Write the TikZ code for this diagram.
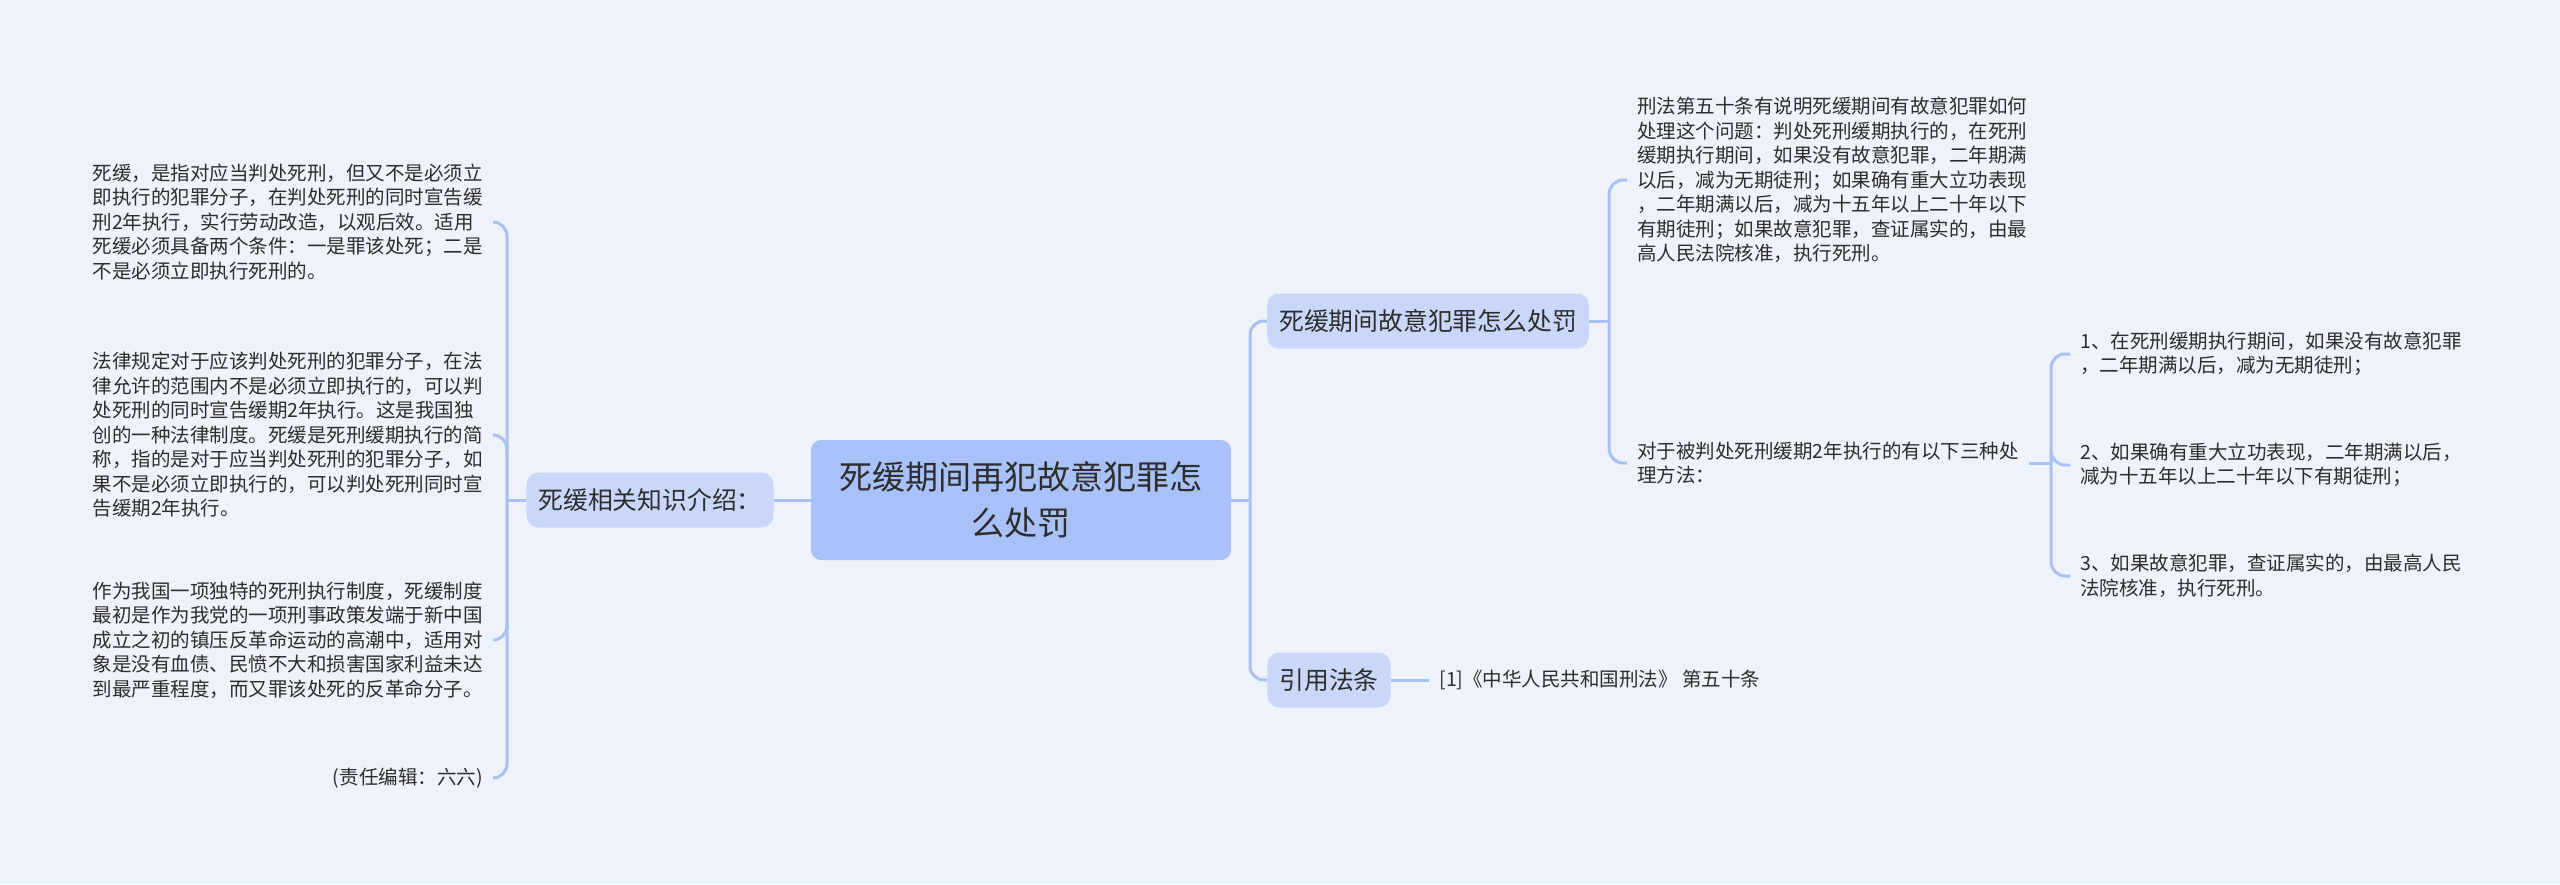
\documentclass[tikz,border=0pt]{standalone}
\usepackage{fontspec}
\usepackage{xcolor}
\usepackage{tikz}
\usetikzlibrary{calc}
\newfontfamily\cjk{Noto Sans CJK SC}

\definecolor{bgcol}{RGB}{238,242,251}
\definecolor{rootcol}{RGB}{169,193,249}
\definecolor{topiccol}{RGB}{201,216,250}
\definecolor{linkcol}{RGB}{170,193,241}
\definecolor{textcol}{RGB}{45,45,45}

\begin{document}
\begin{tikzpicture}[
  x=0.5pt, y=-0.5pt,
  rootbox/.style={fill=rootcol, rounded corners=5pt, minimum width=210pt, minimum height=60pt,
    align=center, text=textcol, font={\cjk\fontsize{16.5pt}{23pt}\selectfont}},
  topicbox/.style={fill=topiccol, rounded corners=6pt, minimum height=27.5pt, inner xsep=6pt,
    text=textcol, font={\cjk\fontsize{12.4pt}{15pt}\selectfont}},
  leaf/.style={align=left, inner sep=5pt, text=textcol, font={\cjk\fontsize{9.75pt}{12.25pt}\selectfont}},
  link/.style={draw=linkcol, line width=1.5pt},
  curvedlink/.style={link, rounded corners=7pt}
]
\useasboundingbox[fill=bgcol] (0,0) rectangle (2560,884);

% centre and first level
\node[rootbox] (root) at (1021,500) {死缓期间再犯故意犯罪怎\\么处罚};
\node[topicbox] (know) at (650,500) {死缓相关知识介绍：};
\node[topicbox] (punish) at (1428,321) {死缓期间故意犯罪怎么处罚};
\node[topicbox] (law) at (1329,680) {引用法条};

% left side: knowledge
\node[leaf, anchor=east] (k1) at (493,222) {死缓，是指对应当判处死刑，但又不是必须立\\即执行的犯罪分子，在判处死刑的同时宣告缓\\刑2年执行，实行劳动改造，以观后效。适用\\死缓必须具备两个条件：一是罪该处死；二是\\不是必须立即执行死刑的。};
\node[leaf, anchor=east] (k2) at (493,435) {法律规定对于应该判处死刑的犯罪分子，在法\\律允许的范围内不是必须立即执行的，可以判\\处死刑的同时宣告缓期2年执行。这是我国独\\创的一种法律制度。死缓是死刑缓期执行的简\\称，指的是对于应当判处死刑的犯罪分子，如\\果不是必须立即执行的，可以判处死刑同时宣\\告缓期2年执行。};
\node[leaf, anchor=east] (k3) at (493,640) {作为我国一项独特的死刑执行制度，死缓制度\\最初是作为我党的一项刑事政策发端于新中国\\成立之初的镇压反革命运动的高潮中，适用对\\象是没有血债、民愤不大和损害国家利益未达\\到最严重程度，而又罪该处死的反革命分子。};
\node[leaf, anchor=east] (k4) at (493,778) {(责任编辑：六六)};

% right side: punishment
\node[leaf, anchor=west] (p1) at (1627,180) {刑法第五十条有说明死缓期间有故意犯罪如何\\处理这个问题：判处死刑缓期执行的，在死刑\\缓期执行期间，如果没有故意犯罪，二年期满\\以后，减为无期徒刑；如果确有重大立功表现\\，二年期满以后，减为十五年以上二十年以下\\有期徒刑；如果故意犯罪，查证属实的，由最\\高人民法院核准，执行死刑。};
\node[leaf, anchor=west] (p2) at (1627,463) {对于被判处死刑缓期2年执行的有以下三种处\\理方法：};
\node[leaf, anchor=west] (s1) at (2070,354) {1、在死刑缓期执行期间，如果没有故意犯罪\\，二年期满以后，减为无期徒刑；};
\node[leaf, anchor=west] (s2) at (2070,465) {2、如果确有重大立功表现，二年期满以后，\\减为十五年以上二十年以下有期徒刑；};
\node[leaf, anchor=west] (s3) at (2070,576) {3、如果故意犯罪，查证属实的，由最高人民\\法院核准，执行死刑。};
\node[leaf, anchor=west] (ref) at (1429,680) {[1]《中华人民共和国刑法》 第五十条};

% connectors
\coordinate (bl) at (507,500);
\coordinate (br) at (1250,500);
\coordinate (bp) at ($(punish.east)+(20,0)$);
\coordinate (bs) at ($(p2.east)+(22,0)$);

\draw[link] (root.west) -- (know.east);
\draw[link] (know.west) -- (bl);
\foreach \n in {k1,k2,k3,k4}
  \draw[curvedlink] (bl) |- (\n.east);

\draw[link] (root.east) -- (br);
\foreach \n in {punish,law}
  \draw[curvedlink] (br) |- (\n.west);

\draw[link] (punish.east) -- (bp);
\foreach \n in {p1,p2}
  \draw[curvedlink] (bp) |- (\n.west);

\draw[link] (p2.east) -- (bs);
\foreach \n in {s1,s2,s3}
  \draw[curvedlink] (bs) |- (\n.west);

\draw[link] (law.east) -- (ref.west);
\end{tikzpicture}
\end{document}
